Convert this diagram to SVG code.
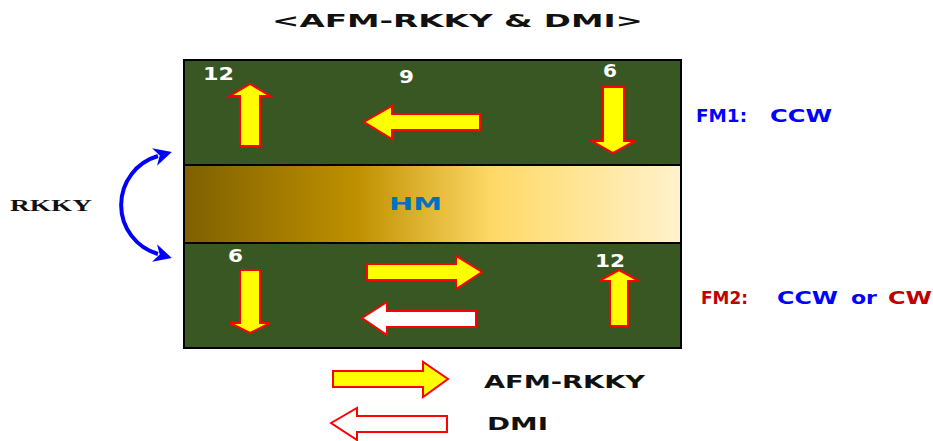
<svg xmlns="http://www.w3.org/2000/svg" width="933" height="441" viewBox="0 0 933 441">
<defs>
<linearGradient id="hmg" x1="0" y1="0" x2="1" y2="0">
<stop offset="0" stop-color="#7F6000"/>
<stop offset="0.35" stop-color="#BF9000"/>
<stop offset="0.62" stop-color="#FFD966"/>
<stop offset="1" stop-color="#FFF2CC"/>
</linearGradient>
<marker id="bh" viewBox="0 0 10 10" refX="2" refY="5" markerWidth="4.5" markerHeight="4.5" orient="auto-start-reverse">
<path d="M0,0 L10,5 L0,10 L3,5 Z" fill="#0000FF"/>
</marker>
</defs>
<style>
.g{fill:#385723;stroke:#000;stroke-width:2}
.ya{fill:#FFFF00;stroke:#FF0000;stroke-width:2;stroke-linejoin:miter}
.wa{fill:#FFFFFF;stroke:#FF0000;stroke-width:2}
.n{font-family:"DejaVu Sans",sans-serif;font-weight:bold;font-size:17px;fill:#FFFFFF}
.t{font-family:"DejaVu Sans",sans-serif;font-weight:bold;font-size:18px}
.f{font-family:"DejaVu Sans",sans-serif;font-weight:bold;font-size:17px}
</style>
<rect width="933" height="441" fill="#FFFFFF"/>
<g id="title"><text class="t" x="272" y="27" fill="#111" textLength="371" lengthAdjust="spacingAndGlyphs">&lt;AFM-RKKY &amp; DMI&gt;</text></g>
<g id="fm1-layer">
<rect class="g" x="184" y="60" width="497" height="105"/>
<text class="n" x="203" y="80" textLength="31" lengthAdjust="spacingAndGlyphs">12</text>
<text class="n" x="399" y="83" textLength="15" lengthAdjust="spacingAndGlyphs">9</text>
<text class="n" x="603" y="77" textLength="14" lengthAdjust="spacingAndGlyphs">6</text>
<polygon class="ya" points="250,84 270,96 260,96 260,146 240,146 240,96 230,96"/>
<polygon class="ya" points="364,122 392,106 392,114 480,114 480,130 392,130 392,139"/>
<polygon class="ya" points="603,87 624,87 624,141 635,141 613,153 592,141 603,141"/>
</g>
<g id="hm-layer">
<rect x="184" y="165" width="497" height="78" fill="url(#hmg)" stroke="#000" stroke-width="2"/>
<text class="t" x="389" y="210" fill="#0070C0" textLength="53" lengthAdjust="spacingAndGlyphs">HM</text>
</g>
<g id="fm2-layer">
<rect class="g" x="184" y="243" width="497" height="105"/>
<text class="n" x="228" y="262" textLength="15" lengthAdjust="spacingAndGlyphs">6</text>
<text class="n" x="595" y="267" textLength="30" lengthAdjust="spacingAndGlyphs">12</text>
<polygon class="ya" points="240,270 260,270 260,323 270,323 250,333 230,323 240,323"/>
<polygon class="ya" points="367,264 456,264 456,256 482,272 456,289 456,280 367,280"/>
<polygon class="wa" points="362,318 387,302 387,311 476,311 476,327 387,327 387,335"/>
<polygon class="ya" points="619,270 639,281 628,281 628,326 610,326 610,281 599,281"/>
</g>
<g id="connectors">
<path d="M158,156 A51,51 0 0 0 158,254" fill="none" stroke="#0000FF" stroke-width="4" marker-start="url(#bh)" marker-end="url(#bh)"/>
</g>
<g id="rkky-label"><text x="10" y="211" font-family="'Liberation Serif',serif" font-weight="bold" font-size="17" fill="#111" textLength="82" lengthAdjust="spacingAndGlyphs">RKKY</text></g>
<g id="fm1-label">
<text class="f" x="696" y="122" fill="#0000FF" textLength="51" lengthAdjust="spacingAndGlyphs">FM1:</text>
<text class="f" x="770" y="122" fill="#0000FF" textLength="62" lengthAdjust="spacingAndGlyphs">CCW</text>
</g>
<g id="fm2-label">
<text class="f" x="701" y="304" fill="#C00000" textLength="47" lengthAdjust="spacingAndGlyphs">FM2:</text>
<text class="f" x="777" y="304" fill="#0000FF" textLength="61" lengthAdjust="spacingAndGlyphs">CCW</text>
<text class="f" x="851" y="304" fill="#0000FF" textLength="26" lengthAdjust="spacingAndGlyphs">or</text>
<text class="f" x="888" y="304" fill="#C00000" textLength="44" lengthAdjust="spacingAndGlyphs">CW</text>
</g>
<g id="legend">
<polygon class="ya" points="333,371 423,371 423,362 448,379 423,397 423,387 333,387"/>
<text class="t" x="484" y="388" fill="#111" textLength="161" lengthAdjust="spacingAndGlyphs">AFM-RKKY</text>
<polygon class="wa" points="331,423 357,408 357,416 447,416 447,432 357,432 357,440"/>
<text class="t" x="487" y="430" fill="#111" textLength="61" lengthAdjust="spacingAndGlyphs">DMI</text>
</g>
</svg>
